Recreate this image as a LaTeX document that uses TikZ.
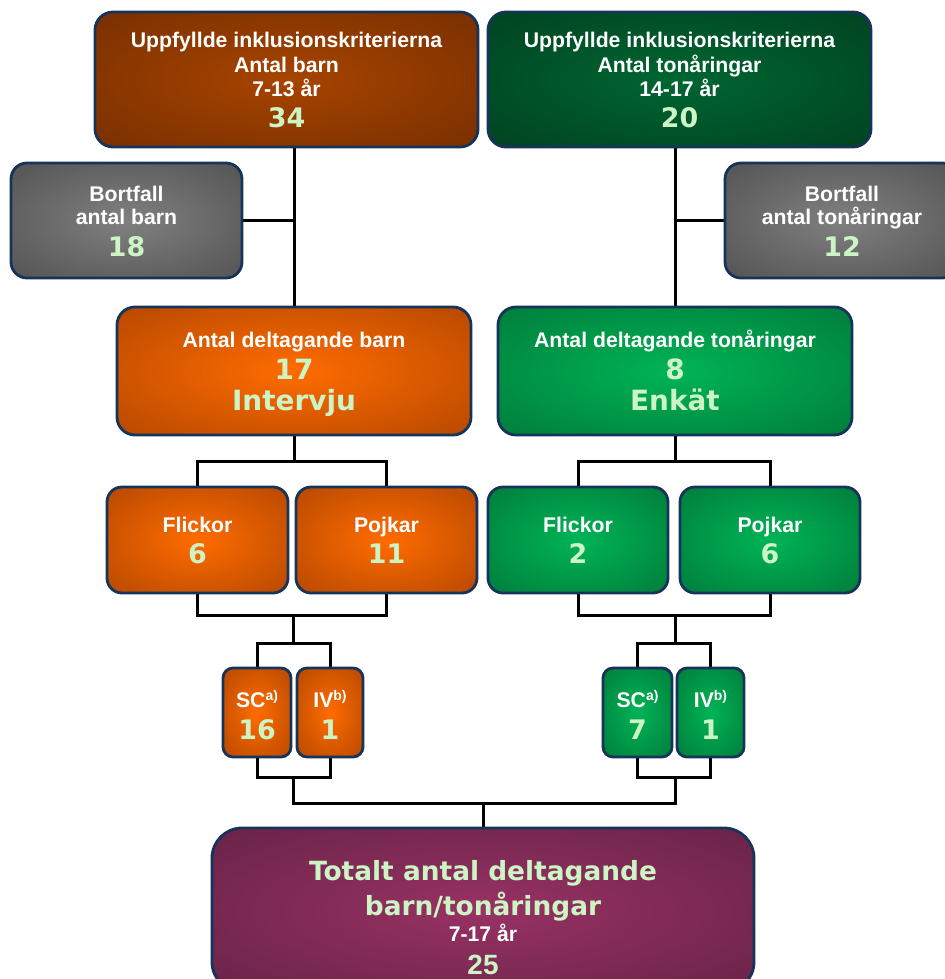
\documentclass[tikz,border=0pt]{standalone}
\usepackage{fontspec}
\setmainfont{Liberation Sans}
\newfontfamily\numfont{DejaVu Sans}
\definecolor{bordc}{RGB}{22,52,90}
\definecolor{tgreen}{RGB}{204,244,196}
\definecolor{brC}{RGB}{168,68,0}
\definecolor{brO}{RGB}{104,40,0}
\definecolor{dgC}{RGB}{0,102,50}
\definecolor{dgO}{RGB}{0,54,27}
\definecolor{grC}{RGB}{128,128,128}
\definecolor{grO}{RGB}{68,68,68}
\definecolor{orC}{RGB}{255,108,0}
\definecolor{orO}{RGB}{158,60,0}
\definecolor{gnC}{RGB}{0,180,86}
\definecolor{gnO}{RGB}{0,106,50}
\definecolor{puC}{RGB}{152,50,100}
\definecolor{puO}{RGB}{88,30,62}
\pgfdeclareradialshading{shBrown}{\pgfpointorigin}{color(0bp)=(brC); color(48bp)=(brO); color(80bp)=(brO)}
\pgfdeclareradialshading{shDgreen}{\pgfpointorigin}{color(0bp)=(dgC); color(48bp)=(dgO); color(80bp)=(dgO)}
\pgfdeclareradialshading{shGray}{\pgfpointorigin}{color(0bp)=(grC); color(48bp)=(grO); color(80bp)=(grO)}
\pgfdeclareradialshading{shOrange}{\pgfpointorigin}{color(0bp)=(orC); color(48bp)=(orO); color(80bp)=(orO)}
\pgfdeclareradialshading{shGreen}{\pgfpointorigin}{color(0bp)=(gnC); color(48bp)=(gnO); color(80bp)=(gnO)}
\pgfdeclareradialshading{shPurple}{\pgfpointorigin}{color(0bp)=(puC); color(48bp)=(puO); color(80bp)=(puO)}
\pgfdeclarelayer{background}
\pgfsetlayers{background,main}
\tikzset{
  box/.style={draw=bordc, line width=2.8bp, inner sep=0pt, rounded corners=#1},
  box/.default=16bp,
  lab/.style={text=white, font=\fontsize{21.3}{24}\selectfont\bfseries, anchor=base, inner sep=0pt},
  num/.style={text=tgreen, font=\numfont\fontsize{27}{30}\selectfont\bfseries, anchor=base, inner sep=0pt},
  bignum/.style={num, font=\numfont\fontsize{28}{30}\selectfont\bfseries},
  conn/.style={draw=black, line width=3bp}
}
\newcommand{\supx}[1]{\raisebox{7bp}{\fontsize{14}{14}\selectfont #1}}
\begin{document}
\begin{tikzpicture}[x=1bp, y=-1bp]
\clip (0,0) rectangle (945,979);
% boxes
\node[box=18bp, shading=shBrown, minimum width=383bp, minimum height=135bp] (top1) at (286.5,79.5) {};
\node[box=18bp, shading=shDgreen, minimum width=383bp, minimum height=135bp] (top2) at (679.5,79.5) {};
\node[box=16bp, shading=shGray, minimum width=231bp, minimum height=115bp] (bort1) at (126.5,220.5) {};
\node[box=16bp, shading=shGray, minimum width=233bp, minimum height=115bp] (bort2) at (841.5,220.5) {};
\node[box=18bp, shading=shOrange, minimum width=354bp, minimum height=128bp] (mid1) at (294,371) {};
\node[box=18bp, shading=shGreen, minimum width=354bp, minimum height=128bp] (mid2) at (675,371) {};
\node[box=15bp, shading=shOrange, minimum width=181bp, minimum height=106bp] (fl1) at (197.5,540) {};
\node[box=15bp, shading=shOrange, minimum width=181bp, minimum height=106bp] (pj1) at (386.5,540) {};
\node[box=15bp, shading=shGreen, minimum width=180bp, minimum height=106bp] (fl2) at (578,540) {};
\node[box=15bp, shading=shGreen, minimum width=180bp, minimum height=106bp] (pj2) at (770,540) {};
\node[box=10bp, shading=shOrange, minimum width=68bp, minimum height=89bp] (sc1) at (257,712.5) {};
\node[box=10bp, shading=shOrange, minimum width=66bp, minimum height=89bp] (iv1) at (330,712.5) {};
\node[box=10bp, shading=shGreen, minimum width=69bp, minimum height=89bp] (sc2) at (637.5,712.5) {};
\node[box=10bp, shading=shGreen, minimum width=67bp, minimum height=89bp] (iv2) at (710.5,712.5) {};
\node[box=30bp, shading=shPurple, minimum width=542bp, minimum height=164bp] (tot) at (483,910) {};
% texts
\node[lab] (t1a) at (286.5,47) {Uppfyllde inklusionskriterierna};
\node[lab] (t1b) at (286.5,72) {Antal barn};
\node[lab] (t1c) at (286.5,96) {7-13 år};
\node[num] (t1d) at (286.5,127) {34};
\node[lab] (t2a) at (679.5,47) {Uppfyllde inklusionskriterierna};
\node[lab] (t2b) at (679.5,72) {Antal tonåringar};
\node[lab] (t2c) at (679.5,96) {14-17 år};
\node[num] (t2d) at (679.5,127) {20};
\node[lab] (b1a) at (126.5,201) {Bortfall};
\node[lab] (b1b) at (126.5,224) {antal barn};
\node[num] (b1c) at (126.5,256) {18};
\node[lab] (b2a) at (842,201) {Bortfall};
\node[lab] (b2b) at (842,224) {antal tonåringar};
\node[num] (b2c) at (842,256) {12};
\node[lab] (m1a) at (294,347) {Antal deltagande barn};
\node[bignum] (m1b) at (294,379) {17};
\node[bignum] (m1c) at (294,410) {Intervju};
\node[lab] (m2a) at (675,347) {Antal deltagande tonåringar};
\node[bignum] (m2b) at (675,379) {8};
\node[bignum] (m2c) at (675,410) {Enkät};
\node[lab] (f1a) at (197.5,532) {Flickor};
\node[num] (f1b) at (197.5,563) {6};
\node[lab] (p1a) at (386.5,532) {Pojkar};
\node[num] (p1b) at (386.5,563) {11};
\node[lab] (f2a) at (578,532) {Flickor};
\node[num] (f2b) at (578,563) {2};
\node[lab] (p2a) at (770,532) {Pojkar};
\node[num] (p2b) at (770,563) {6};
\node[lab] (s1a) at (257,707) {SC\supx{a)}};
\node[num] (s1b) at (257,739) {16};
\node[lab] (i1a) at (330,707) {IV\supx{b)}};
\node[num] (i1b) at (330,739) {1};
\node[lab] (s2a) at (637.5,707) {SC\supx{a)}};
\node[num] (s2b) at (637.5,739) {7};
\node[lab] (i2a) at (710.5,707) {IV\supx{b)}};
\node[num] (i2b) at (710.5,739) {1};
\node[num, font=\numfont\fontsize{26.5}{30}\selectfont\bfseries] (ta) at (483,880) {Totalt antal deltagande};
\node[num, font=\numfont\fontsize{26.5}{30}\selectfont\bfseries] (tb) at (483,915) {barn/tonåringar};
\node[lab] (tc) at (483,941) {7-17 år};
\node[num, font=\fontsize{28}{30}\selectfont\bfseries] (td) at (483,974) {25};
% connectors
\coordinate (jA) at (294,461);
\coordinate (jB) at (675,461);
\coordinate (jC) at (293,615);
\coordinate (jD) at (293,643);
\coordinate (jE) at (293,777);
\coordinate (jF) at (675,615);
\coordinate (jG) at (675,643);
\coordinate (jH) at (675,777);
\coordinate (jI) at (483,803);
\begin{pgfonlayer}{background}
\draw[conn] (top1.south -| mid1.north) -- (mid1.north);
\draw[conn] (bort1.east) -- (bort1.east -| mid1.north);
\draw[conn] (top2.south -| mid2.north) -- (mid2.north);
\draw[conn] (bort2.west) -- (bort2.west -| mid2.north);
\draw[conn] (mid1.south) -- (jA);
\draw[conn] (fl1.north) |- (jA) -| (pj1.north);
\draw[conn] (mid2.south) -- (jB);
\draw[conn] (fl2.north) |- (jB) -| (pj2.north);
\draw[conn] (fl1.south) |- (jC) -| (pj1.south);
\draw[conn] (jC) -- (jD);
\draw[conn] (sc1.north) |- (jD) -| (iv1.north);
\draw[conn] (fl2.south) |- (jF) -| (pj2.south);
\draw[conn] (jF) -- (jG);
\draw[conn] (sc2.north) |- (jG) -| (iv2.north);
\draw[conn] (sc1.south) |- (jE) -| (iv1.south);
\draw[conn] (sc2.south) |- (jH) -| (iv2.south);
\draw[conn] (jE) |- (jI) -| (jH);
\draw[conn] (jI) -- (tot.north);
\end{pgfonlayer}
\end{tikzpicture}
\end{document}
